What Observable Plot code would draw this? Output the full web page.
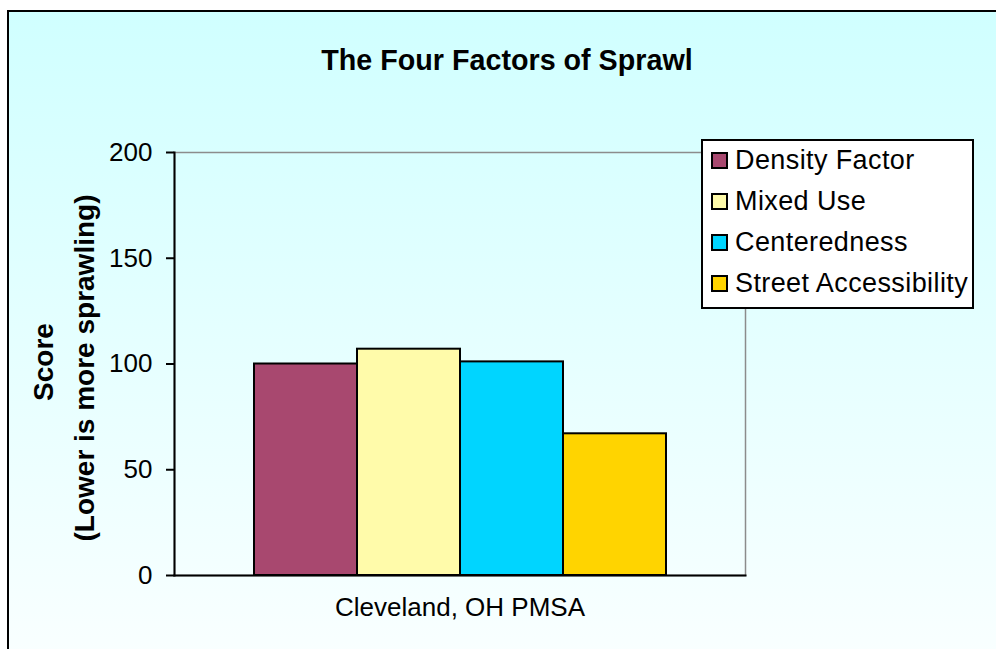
<!DOCTYPE html>
<html>
<head>
<meta charset="utf-8">
<script src="https://cdn.jsdelivr.net/npm/d3@7"></script>
<script src="https://cdn.jsdelivr.net/npm/@observablehq/plot@0.6"></script>
<style>
  html, body { margin: 0; padding: 0; width: 996px; height: 649px; overflow: hidden; background: #fff; }
  #frame { position: absolute; left: 7px; top: 10px; width: 1010px; height: 700px; border: 2px solid #000;
           background: linear-gradient(to bottom, #d0ffff 0%, #f9ffff 92%, #ffffff 100%); }
  #chart { position: absolute; left: 0; top: 0; width: 996px; height: 649px; }
  #title { position: absolute; left: 0; width: 1014px; top: 46px; text-align: center;
           font: bold 28.7px "Liberation Sans", Arial, sans-serif; line-height: 1; color: #000; }
  .ylab { position: absolute; white-space: nowrap; font: bold 28px "Liberation Sans", Arial, sans-serif;
          line-height: 1; color: #000; transform: translate(-50%, -50%) rotate(-90deg); }
  #legend { position: absolute; left: 701px; top: 139px; width: 269px; height: 166px; background: #fff;
            border: 2px solid #000; box-sizing: content-box; }
  .item { position: absolute; left: 8px; height: 30px; display: flex; align-items: center;
          font: 27px "Liberation Sans", Arial, sans-serif; letter-spacing: 0.4px; color: #000; white-space: nowrap; }
  .sw { width: 13px; height: 13px; border: 2px solid #000; margin-right: 7px; }
</style>
</head>
<body>
<div id="frame"></div>
<div id="chart"></div>
<script>
const categories = ["Cleveland, OH PMSA"];
const series = ["Density Factor", "Mixed Use", "Centeredness", "Street Accessibility"];
const values = [100, 107, 101, 67];
const colors = ["#a8486f", "#fffbaa", "#00d5ff", "#ffd400"];
const yTicks = [0, 50, 100, 150, 200];
const titleText = "The Four Factors of Sprawl";
const yLabelLines = ["Score", "(Lower is more sprawling)"];

const rows = series.map((s, i) => ({category: categories[0], series: s, value: values[i]}));

const plot = Plot.plot({
  width: 996,
  height: 649,
  marginTop: 152,
  marginBottom: 74,
  marginLeft: 174,
  marginRight: 251,
  style: {background: "transparent", fontFamily: "'Liberation Sans', Arial, sans-serif", fontSize: "26px", color: "#000", overflow: "visible"},
  fx: {domain: categories, padding: 0, label: null},
  x: {domain: series, paddingInner: 0, paddingOuter: 0.75, axis: null},
  y: {domain: [0, 200], label: null},
  color: {domain: series, range: colors},
  marks: [
    Plot.frame({stroke: "#8c8c8c", strokeWidth: 1.5}),
    Plot.barY(rows, {fx: "category", x: "series", y: "value", fill: "series", stroke: "#000", strokeWidth: 2}),
    Plot.frame({anchor: "left", stroke: "#000", strokeWidth: 2}),
    Plot.frame({anchor: "bottom", stroke: "#000", strokeWidth: 2}),
    Plot.axisY({ticks: yTicks, tickSize: 8, tickPadding: 14, label: null, strokeWidth: 2, fontSize: 26}),
    Plot.axisFx({anchor: "bottom", tickSize: 0, tickPadding: 22, label: null, fontSize: 26})
  ]
});

const chart = document.getElementById("chart");
chart.appendChild(plot);

const title = document.createElement("div");
title.id = "title";
title.textContent = titleText;
chart.appendChild(title);

const ylPos = [[44, 362], [85, 368]];
yLabelLines.forEach((t, i) => {
  const d = document.createElement("div");
  d.className = "ylab";
  d.style.left = ylPos[i][0] + "px";
  d.style.top = ylPos[i][1] + "px";
  d.textContent = t;
  chart.appendChild(d);
});

const legend = document.createElement("div");
legend.id = "legend";
series.forEach((s, i) => {
  const it = document.createElement("div");
  it.className = "item";
  it.style.top = (4 + i * 41.3) + "px";
  const sw = document.createElement("div");
  sw.className = "sw";
  sw.style.background = colors[i];
  const tx = document.createElement("span");
  tx.textContent = s;
  it.appendChild(sw);
  it.appendChild(tx);
  legend.appendChild(it);
});
chart.appendChild(legend);
</script>
</body>
</html>
